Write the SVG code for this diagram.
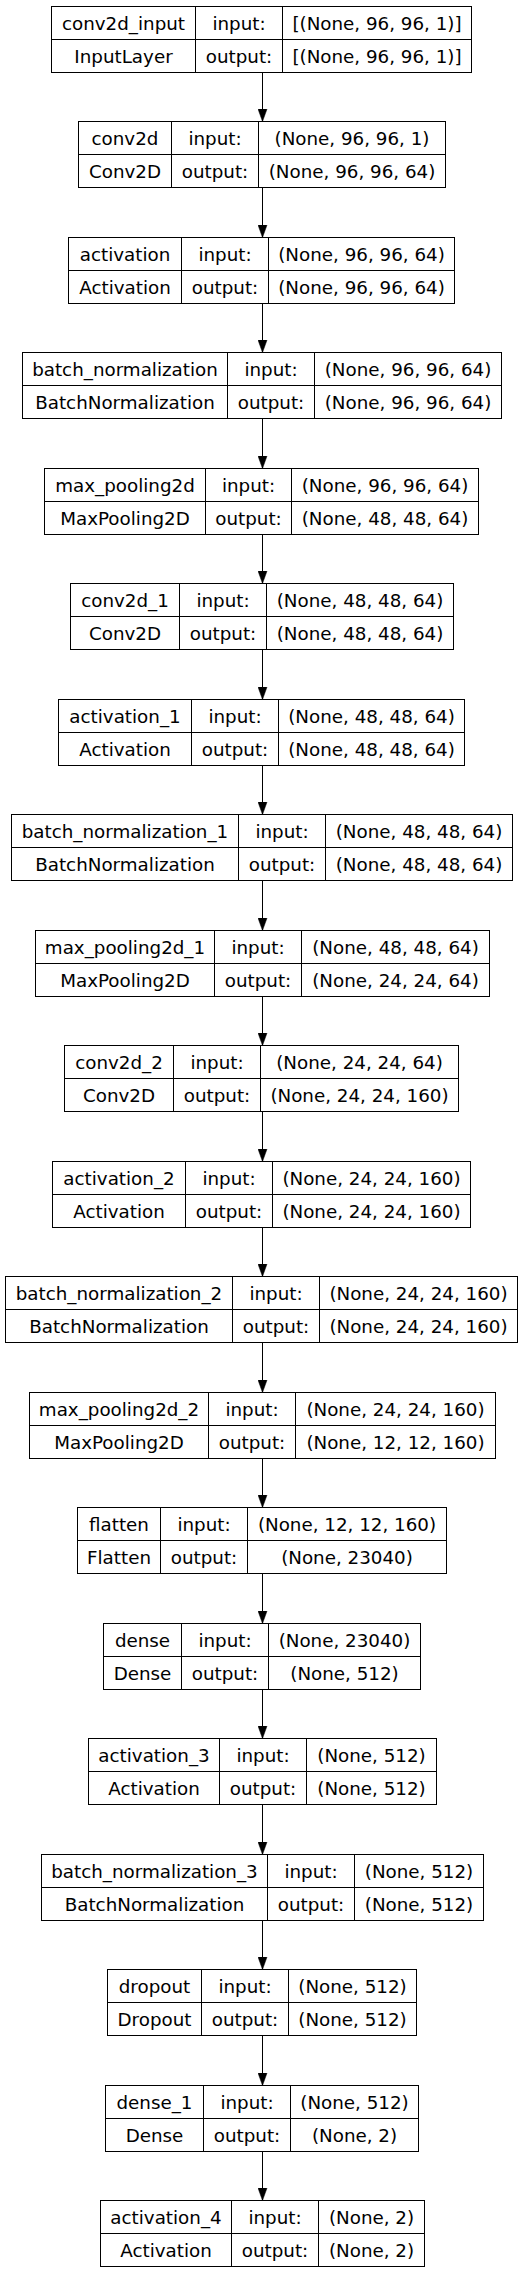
<svg xmlns="http://www.w3.org/2000/svg" width="529" height="2272" viewBox="0 0 529 2272">
<style>
rect{fill:none;stroke:#000;stroke-width:1}
.n line{stroke:#000;stroke-width:1}
text{font-family:"DejaVu Sans","Liberation Sans",sans-serif;font-size:18.3px;fill:#000;text-anchor:middle}
.e line{stroke:#000;stroke-width:1;marker-end:url(#arr)}
</style>
<defs>
<marker id="arr" markerUnits="userSpaceOnUse" markerWidth="14" markerHeight="10" refX="13" refY="5" orient="auto">
<path d="M0,0.3 L13,5 L0,9.7 Z" fill="#000" stroke="#000" stroke-width="0.5"/>
</marker>
</defs>
<rect x="0" y="0" width="529" height="2272" fill="#fff" stroke="none" style="fill:#fff;stroke:none"/>
<g id="edges" class="e">
<line x1="262.5" y1="72" x2="262.5" y2="121.5"/>
<line x1="262.5" y1="187" x2="262.5" y2="237.5"/>
<line x1="262.5" y1="303" x2="262.5" y2="352.5"/>
<line x1="262.5" y1="418" x2="262.5" y2="468.5"/>
<line x1="262.5" y1="534" x2="262.5" y2="583.5"/>
<line x1="262.5" y1="649" x2="262.5" y2="699.5"/>
<line x1="262.5" y1="765" x2="262.5" y2="814.5"/>
<line x1="262.5" y1="880" x2="262.5" y2="930.5"/>
<line x1="262.5" y1="996" x2="262.5" y2="1045.5"/>
<line x1="262.5" y1="1111" x2="262.5" y2="1161.5"/>
<line x1="262.5" y1="1227" x2="262.5" y2="1276.5"/>
<line x1="262.5" y1="1342" x2="262.5" y2="1392.5"/>
<line x1="262.5" y1="1458" x2="262.5" y2="1507.5"/>
<line x1="262.5" y1="1573" x2="262.5" y2="1623.5"/>
<line x1="262.5" y1="1689" x2="262.5" y2="1738.5"/>
<line x1="262.5" y1="1804" x2="262.5" y2="1854.5"/>
<line x1="262.5" y1="1920" x2="262.5" y2="1969.5"/>
<line x1="262.5" y1="2035" x2="262.5" y2="2085.5"/>
<line x1="262.5" y1="2151" x2="262.5" y2="2200.5"/>
</g>
<g id="n0" class="n" transform="translate(0,6)"><rect x="51.5" y="0.5" width="420" height="66"/><line x1="195.5" y1="0.5" x2="195.5" y2="66.5"/><line x1="282.5" y1="0.5" x2="282.5" y2="66.5"/><line x1="51.5" y1="33.5" x2="471.5" y2="33.5"/><text x="123.5" y="23.5">conv2d_input</text><text x="239" y="23.5">input:</text><text x="377" y="23.5">[(None, 96, 96, 1)]</text><text x="123.5" y="56.5">InputLayer</text><text x="239" y="56.5">output:</text><text x="377" y="56.5">[(None, 96, 96, 1)]</text></g>
<g id="n1" class="n" transform="translate(0,121)"><rect x="78.5" y="0.5" width="367" height="66"/><line x1="171.5" y1="0.5" x2="171.5" y2="66.5"/><line x1="258.5" y1="0.5" x2="258.5" y2="66.5"/><line x1="78.5" y1="33.5" x2="445.5" y2="33.5"/><text x="125" y="23.5">conv2d</text><text x="215" y="23.5">input:</text><text x="352" y="23.5">(None, 96, 96, 1)</text><text x="125" y="56.5">Conv2D</text><text x="215" y="56.5">output:</text><text x="352" y="56.5">(None, 96, 96, 64)</text></g>
<g id="n2" class="n" transform="translate(0,237)"><rect x="68.5" y="0.5" width="386" height="66"/><line x1="181.5" y1="0.5" x2="181.5" y2="66.5"/><line x1="268.5" y1="0.5" x2="268.5" y2="66.5"/><line x1="68.5" y1="33.5" x2="454.5" y2="33.5"/><text x="125" y="23.5">activation</text><text x="225" y="23.5">input:</text><text x="361.5" y="23.5">(None, 96, 96, 64)</text><text x="125" y="56.5">Activation</text><text x="225" y="56.5">output:</text><text x="361.5" y="56.5">(None, 96, 96, 64)</text></g>
<g id="n3" class="n" transform="translate(0,352)"><rect x="22.5" y="0.5" width="479" height="66"/><line x1="227.5" y1="0.5" x2="227.5" y2="66.5"/><line x1="314.5" y1="0.5" x2="314.5" y2="66.5"/><line x1="22.5" y1="33.5" x2="501.5" y2="33.5"/><text x="125" y="23.5">batch_normalization</text><text x="271" y="23.5">input:</text><text x="408" y="23.5">(None, 96, 96, 64)</text><text x="125" y="56.5">BatchNormalization</text><text x="271" y="56.5">output:</text><text x="408" y="56.5">(None, 96, 96, 64)</text></g>
<g id="n4" class="n" transform="translate(0,468)"><rect x="44.5" y="0.5" width="434" height="66"/><line x1="205.5" y1="0.5" x2="205.5" y2="66.5"/><line x1="291.5" y1="0.5" x2="291.5" y2="66.5"/><line x1="44.5" y1="33.5" x2="478.5" y2="33.5"/><text x="125" y="23.5">max_pooling2d</text><text x="248.5" y="23.5">input:</text><text x="385" y="23.5">(None, 96, 96, 64)</text><text x="125" y="56.5">MaxPooling2D</text><text x="248.5" y="56.5">output:</text><text x="385" y="56.5">(None, 48, 48, 64)</text></g>
<g id="n5" class="n" transform="translate(0,583)"><rect x="70.5" y="0.5" width="383" height="66"/><line x1="179.5" y1="0.5" x2="179.5" y2="66.5"/><line x1="266.5" y1="0.5" x2="266.5" y2="66.5"/><line x1="70.5" y1="33.5" x2="453.5" y2="33.5"/><text x="125" y="23.5">conv2d_1</text><text x="223" y="23.5">input:</text><text x="360" y="23.5">(None, 48, 48, 64)</text><text x="125" y="56.5">Conv2D</text><text x="223" y="56.5">output:</text><text x="360" y="56.5">(None, 48, 48, 64)</text></g>
<g id="n6" class="n" transform="translate(0,699)"><rect x="58.5" y="0.5" width="406" height="66"/><line x1="191.5" y1="0.5" x2="191.5" y2="66.5"/><line x1="278.5" y1="0.5" x2="278.5" y2="66.5"/><line x1="58.5" y1="33.5" x2="464.5" y2="33.5"/><text x="125" y="23.5">activation_1</text><text x="235" y="23.5">input:</text><text x="371.5" y="23.5">(None, 48, 48, 64)</text><text x="125" y="56.5">Activation</text><text x="235" y="56.5">output:</text><text x="371.5" y="56.5">(None, 48, 48, 64)</text></g>
<g id="n7" class="n" transform="translate(0,814)"><rect x="11.5" y="0.5" width="501" height="66"/><line x1="238.5" y1="0.5" x2="238.5" y2="66.5"/><line x1="325.5" y1="0.5" x2="325.5" y2="66.5"/><line x1="11.5" y1="33.5" x2="512.5" y2="33.5"/><text x="125" y="23.5">batch_normalization_1</text><text x="282" y="23.5">input:</text><text x="419" y="23.5">(None, 48, 48, 64)</text><text x="125" y="56.5">BatchNormalization</text><text x="282" y="56.5">output:</text><text x="419" y="56.5">(None, 48, 48, 64)</text></g>
<g id="n8" class="n" transform="translate(0,930)"><rect x="35.5" y="0.5" width="454" height="66"/><line x1="214.5" y1="0.5" x2="214.5" y2="66.5"/><line x1="301.5" y1="0.5" x2="301.5" y2="66.5"/><line x1="35.5" y1="33.5" x2="489.5" y2="33.5"/><text x="125" y="23.5">max_pooling2d_1</text><text x="258" y="23.5">input:</text><text x="395.5" y="23.5">(None, 48, 48, 64)</text><text x="125" y="56.5">MaxPooling2D</text><text x="258" y="56.5">output:</text><text x="395.5" y="56.5">(None, 24, 24, 64)</text></g>
<g id="n9" class="n" transform="translate(0,1045)"><rect x="64.5" y="0.5" width="394" height="66"/><line x1="173.5" y1="0.5" x2="173.5" y2="66.5"/><line x1="260.5" y1="0.5" x2="260.5" y2="66.5"/><line x1="64.5" y1="33.5" x2="458.5" y2="33.5"/><text x="119" y="23.5">conv2d_2</text><text x="217" y="23.5">input:</text><text x="359.5" y="23.5">(None, 24, 24, 64)</text><text x="119" y="56.5">Conv2D</text><text x="217" y="56.5">output:</text><text x="359.5" y="56.5">(None, 24, 24, 160)</text></g>
<g id="n10" class="n" transform="translate(0,1161)"><rect x="52.5" y="0.5" width="418" height="66"/><line x1="185.5" y1="0.5" x2="185.5" y2="66.5"/><line x1="272.5" y1="0.5" x2="272.5" y2="66.5"/><line x1="52.5" y1="33.5" x2="470.5" y2="33.5"/><text x="119" y="23.5">activation_2</text><text x="229" y="23.5">input:</text><text x="371.5" y="23.5">(None, 24, 24, 160)</text><text x="119" y="56.5">Activation</text><text x="229" y="56.5">output:</text><text x="371.5" y="56.5">(None, 24, 24, 160)</text></g>
<g id="n11" class="n" transform="translate(0,1276)"><rect x="5.5" y="0.5" width="512" height="66"/><line x1="232.5" y1="0.5" x2="232.5" y2="66.5"/><line x1="319.5" y1="0.5" x2="319.5" y2="66.5"/><line x1="5.5" y1="33.5" x2="517.5" y2="33.5"/><text x="119" y="23.5">batch_normalization_2</text><text x="276" y="23.5">input:</text><text x="418.5" y="23.5">(None, 24, 24, 160)</text><text x="119" y="56.5">BatchNormalization</text><text x="276" y="56.5">output:</text><text x="418.5" y="56.5">(None, 24, 24, 160)</text></g>
<g id="n12" class="n" transform="translate(0,1392)"><rect x="29.5" y="0.5" width="466" height="66"/><line x1="208.5" y1="0.5" x2="208.5" y2="66.5"/><line x1="295.5" y1="0.5" x2="295.5" y2="66.5"/><line x1="29.5" y1="33.5" x2="495.5" y2="33.5"/><text x="119" y="23.5">max_pooling2d_2</text><text x="252" y="23.5">input:</text><text x="395.5" y="23.5">(None, 24, 24, 160)</text><text x="119" y="56.5">MaxPooling2D</text><text x="252" y="56.5">output:</text><text x="395.5" y="56.5">(None, 12, 12, 160)</text></g>
<g id="n13" class="n" transform="translate(0,1507)"><rect x="77.5" y="0.5" width="369" height="66"/><line x1="160.5" y1="0.5" x2="160.5" y2="66.5"/><line x1="247.5" y1="0.5" x2="247.5" y2="66.5"/><line x1="77.5" y1="33.5" x2="446.5" y2="33.5"/><text x="119" y="23.5">flatten</text><text x="204" y="23.5">input:</text><text x="347" y="23.5">(None, 12, 12, 160)</text><text x="119" y="56.5">Flatten</text><text x="204" y="56.5">output:</text><text x="347" y="56.5">(None, 23040)</text></g>
<g id="n14" class="n" transform="translate(0,1623)"><rect x="103.5" y="0.5" width="317" height="66"/><line x1="181.5" y1="0.5" x2="181.5" y2="66.5"/><line x1="268.5" y1="0.5" x2="268.5" y2="66.5"/><line x1="103.5" y1="33.5" x2="420.5" y2="33.5"/><text x="142.5" y="23.5">dense</text><text x="225" y="23.5">input:</text><text x="344.5" y="23.5">(None, 23040)</text><text x="142.5" y="56.5">Dense</text><text x="225" y="56.5">output:</text><text x="344.5" y="56.5">(None, 512)</text></g>
<g id="n15" class="n" transform="translate(0,1738)"><rect x="88.5" y="0.5" width="348" height="66"/><line x1="219.5" y1="0.5" x2="219.5" y2="66.5"/><line x1="306.5" y1="0.5" x2="306.5" y2="66.5"/><line x1="88.5" y1="33.5" x2="436.5" y2="33.5"/><text x="154" y="23.5">activation_3</text><text x="263" y="23.5">input:</text><text x="371.5" y="23.5">(None, 512)</text><text x="154" y="56.5">Activation</text><text x="263" y="56.5">output:</text><text x="371.5" y="56.5">(None, 512)</text></g>
<g id="n16" class="n" transform="translate(0,1854)"><rect x="41.5" y="0.5" width="442" height="66"/><line x1="267.5" y1="0.5" x2="267.5" y2="66.5"/><line x1="354.5" y1="0.5" x2="354.5" y2="66.5"/><line x1="41.5" y1="33.5" x2="483.5" y2="33.5"/><text x="154.5" y="23.5">batch_normalization_3</text><text x="311" y="23.5">input:</text><text x="419" y="23.5">(None, 512)</text><text x="154.5" y="56.5">BatchNormalization</text><text x="311" y="56.5">output:</text><text x="419" y="56.5">(None, 512)</text></g>
<g id="n17" class="n" transform="translate(0,1969)"><rect x="107.5" y="0.5" width="309" height="66"/><line x1="201.5" y1="0.5" x2="201.5" y2="66.5"/><line x1="288.5" y1="0.5" x2="288.5" y2="66.5"/><line x1="107.5" y1="33.5" x2="416.5" y2="33.5"/><text x="154.5" y="23.5">dropout</text><text x="245" y="23.5">input:</text><text x="352.5" y="23.5">(None, 512)</text><text x="154.5" y="56.5">Dropout</text><text x="245" y="56.5">output:</text><text x="352.5" y="56.5">(None, 512)</text></g>
<g id="n18" class="n" transform="translate(0,2085)"><rect x="105.5" y="0.5" width="313" height="66"/><line x1="203.5" y1="0.5" x2="203.5" y2="66.5"/><line x1="290.5" y1="0.5" x2="290.5" y2="66.5"/><line x1="105.5" y1="33.5" x2="418.5" y2="33.5"/><text x="154.5" y="23.5">dense_1</text><text x="247" y="23.5">input:</text><text x="354.5" y="23.5">(None, 512)</text><text x="154.5" y="56.5">Dense</text><text x="247" y="56.5">output:</text><text x="354.5" y="56.5">(None, 2)</text></g>
<g id="n19" class="n" transform="translate(0,2200)"><rect x="100.5" y="0.5" width="324" height="66"/><line x1="231.5" y1="0.5" x2="231.5" y2="66.5"/><line x1="318.5" y1="0.5" x2="318.5" y2="66.5"/><line x1="100.5" y1="33.5" x2="424.5" y2="33.5"/><text x="166" y="23.5">activation_4</text><text x="275" y="23.5">input:</text><text x="371.5" y="23.5">(None, 2)</text><text x="166" y="56.5">Activation</text><text x="275" y="56.5">output:</text><text x="371.5" y="56.5">(None, 2)</text></g>
</svg>
